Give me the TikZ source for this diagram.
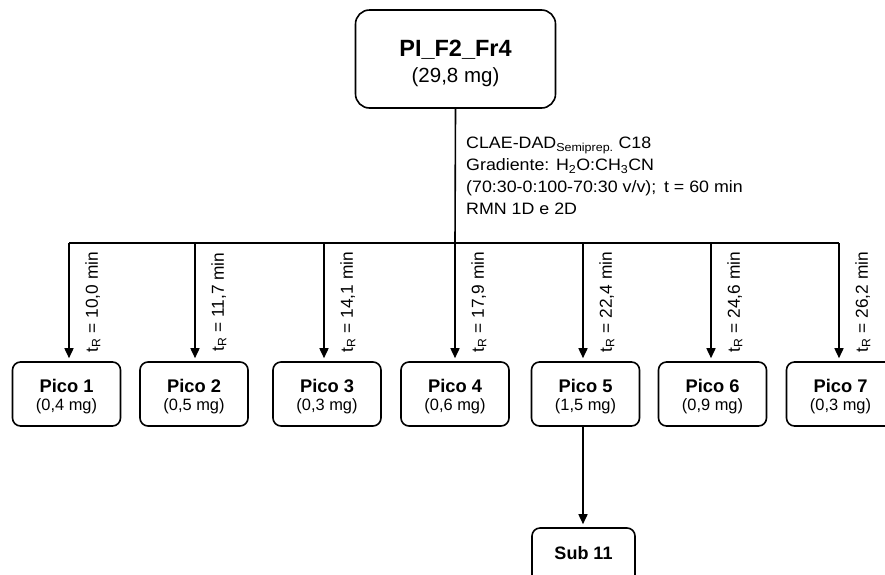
\documentclass[tikz,border=0pt]{standalone}
\usepackage{fontspec}
\setmainfont{Liberation Sans}
\newfontfamily\methodfont[FakeStretch=1.08]{Liberation Sans}
\usetikzlibrary{arrows.meta, positioning}

\begin{document}
\begin{tikzpicture}[
  x=1pt, y=-1pt,
  box/.style={draw=black, line width=1.6pt, rounded corners=8pt, fill=white, minimum width=108pt, minimum height=64pt, align=center, inner sep=0pt, text height=36.3pt, font=\fontsize{16.4}{18.2}\selectfont},
  topbox/.style={box, rounded corners=14pt, minimum width=200pt, minimum height=98pt, text height=51pt, font=\fontsize{20.5}{25.6}\selectfont},
  arrow/.style={-{Triangle[length=10pt, width=9pt]}, draw=black, line width=1.6pt, shorten >=3pt},
  trlabel/.style={rotate=90, anchor=north, font=\fontsize{17.3}{19}\selectfont, inner sep=0pt}
]
  \useasboundingbox (0,0) rectangle (885,574);

  \node[topbox] (fr4) at (455.5,59) {{\fontsize{23.5}{25.6}\selectfont\bfseries PI\_F2\_Fr4}\\ (29,8 mg)};

  \node[box] (p1) at (66.5,394) {{\fontsize{18.3}{18.2}\selectfont\bfseries Pico 1}\\ (0,4 mg)};
  \node[box] (p2) at (194,394) {{\fontsize{18.3}{18.2}\selectfont\bfseries Pico 2}\\ (0,5 mg)};
  \node[box] (p3) at (327,394) {{\fontsize{18.3}{18.2}\selectfont\bfseries Pico 3}\\ (0,3 mg)};
  \node[box] (p4) at (455,394) {{\fontsize{18.3}{18.2}\selectfont\bfseries Pico 4}\\ (0,6 mg)};
  \node[box] (p5) at (585.5,394) {{\fontsize{18.3}{18.2}\selectfont\bfseries Pico 5}\\ (1,5 mg)};
  \node[box] (p6) at (712.5,394) {{\fontsize{18.3}{18.2}\selectfont\bfseries Pico 6}\\ (0,9 mg)};
  \node[box] (p7) at (840.5,394) {{\fontsize{18.3}{18.2}\selectfont\bfseries Pico 7}\\ (0,3 mg)};

  \node[box, minimum width=103pt, text height=13pt, text depth=15pt, font=\fontsize{18}{20}\selectfont\bfseries] (sub11) at (583.5,560) {Sub 11};

  % metodo
  \node[anchor=north west, align=left, inner sep=0pt, font=\methodfont\fontsize{16.5}{22}\selectfont] (clae) at (466,137.2)
    {CLAE-DAD\textsubscript{Semiprep.} C18\\
     Gradiente: H\textsubscript{2}O:CH\textsubscript{3}CN\\
     (70:30-0:100-70:30 v/v);\, t = 60 min\\
     RMN 1D e 2D};

  \coordinate (bar) at (455,243);
  \coordinate (b1) at (69,243);
  \coordinate (b2) at (195,243);
  \coordinate (b3) at (324,243);
  \coordinate (b5) at (583,243);
  \coordinate (b6) at (711,243);
  \coordinate (b7) at (839,243);

  \draw[line width=1.6pt] (fr4.south) -- (bar);
  \draw[line width=1.6pt] (b1) -- (b7);

  \draw[arrow] (b1) -- (b1 |- p1.north) node[pos=0.5, xshift=15.5pt, trlabel] {t\textsubscript{R} = 10,0 min};
  \draw[arrow] (b2) -- (b2 |- p2.north) node[pos=0.5, xshift=15.5pt, trlabel] {t\textsubscript{R} = 11,7 min};
  \draw[arrow] (b3) -- (b3 |- p3.north) node[pos=0.5, xshift=15.5pt, trlabel] {t\textsubscript{R} = 14,1 min};
  \draw[arrow] (bar) -- (bar |- p4.north) node[pos=0.5, xshift=15.5pt, trlabel] {t\textsubscript{R} = 17,9 min};
  \draw[arrow] (b5) -- (b5 |- p5.north) node[pos=0.5, xshift=15.5pt, trlabel] {t\textsubscript{R} = 22,4 min};
  \draw[arrow] (b6) -- (b6 |- p6.north) node[pos=0.5, xshift=15.5pt, trlabel] {t\textsubscript{R} = 24,6 min};
  \draw[arrow] (b7) -- (b7 |- p7.north) node[pos=0.5, xshift=15.5pt, trlabel] {t\textsubscript{R} = 26,2 min};

  \draw[arrow] (p5.south -| b5) -- (sub11.north -| b5);
\end{tikzpicture}
\end{document}
